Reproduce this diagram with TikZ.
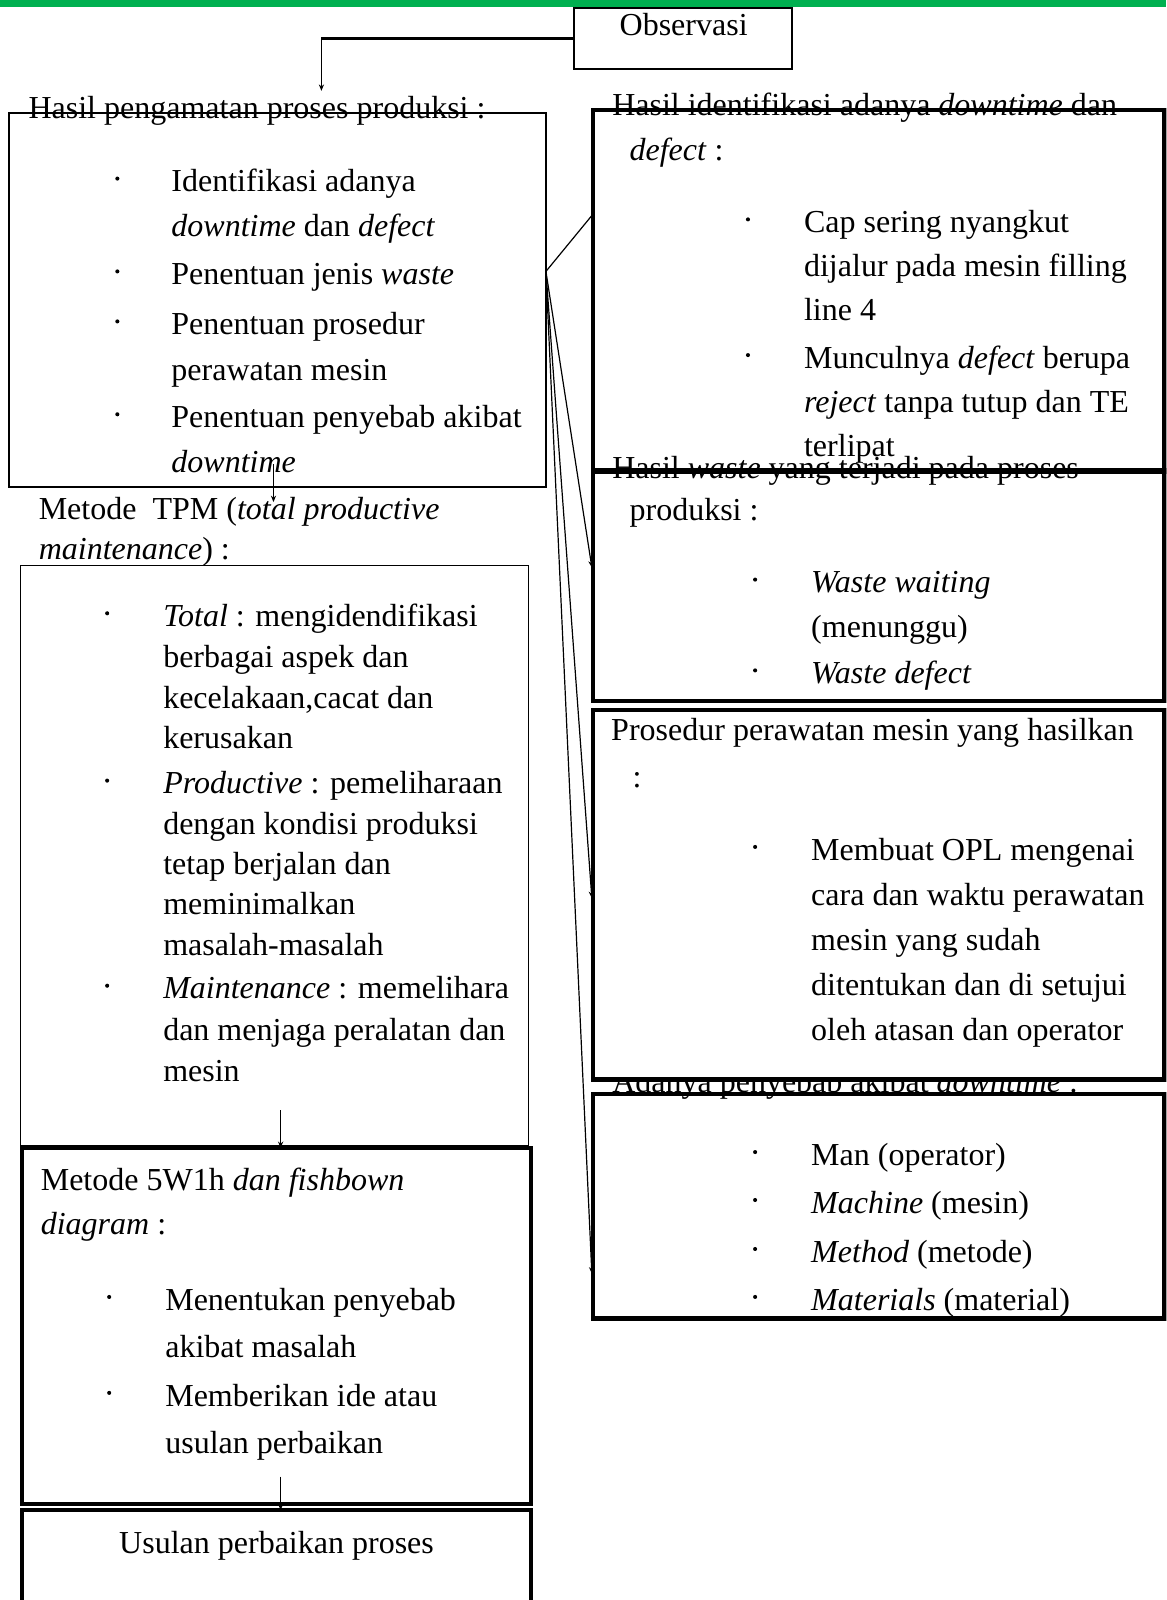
\documentclass[tikz,border=0pt]{standalone}
\usepackage{fontspec}
\setmainfont{Liberation Serif}[Ligatures=NoCommon]
\usetikzlibrary{arrows.meta,fit}
\definecolor{topgreen}{RGB}{0,176,80}
\newcommand\mybullet[2]{\fill (#1,#2) circle[radius=2];}
\newcommand\mylines[1]{\begin{tabular}[t]{@{}l@{}}#1\end{tabular}}
\tikzset{
  txt/.style={anchor=base west, inner sep=0pt, outer sep=0pt, font=\fontsize{16}{#1}\selectfont},
  txt/.default=22.44pt,
  one/.style={anchor=base west, inner sep=0pt, outer sep=0pt, font=\fontsize{16}{20}\selectfont},
  bx/.style={inner sep=0pt, outer sep=0pt, draw, line width=#1},
  conn/.style={line width=0.6pt, -{Stealth[length=3.2pt,width=2.6pt]}},
}
\begin{document}
\begin{tikzpicture}[x=0.51005pt,y=-0.51005pt]
\useasboundingbox (0,0) rectangle (1143,1568);
\clip (0,0) rectangle (1143,1568);
\fill[topgreen] (0,0) rectangle (1143,6.5);

% Observasi
\node[bx=1pt, fit={(563,8) (776,68)}] (obs) {};
\node[one, anchor=base] (obst) at (670,35) {Observasi};

% Box A
\node[one] (tA) at (28,116) {Hasil pengamatan proses produksi :};
\node[bx=0.9pt, fit={(9,111) (535,477)}] (bA) {};
\mybullet{115}{175}
\node[txt] (a1) at (168,188) {\mylines{Identifikasi adanya\\\textit{downtime} dan \textit{defect}}};
\mybullet{115}{266}
\node[txt] (a2) at (168,279) {Penentuan jenis \textit{waste}};
\mybullet{115}{315}
\node[txt=22.95pt] (a3) at (168,328) {\mylines{Penentuan prosedur\\perawatan mesin}};
\mybullet{115}{406}
\node[txt] (a4) at (168,419) {\mylines{Penentuan penyebab akibat\\\textit{downtime}}};

% TPM
\node[txt=19.9pt] (tT) at (38,509) {\mylines{Metode\ \ TPM (\textit{total productive}\\\textit{maintenance}) :}};
\node[bx=0.8pt, fit={(20,554) (518,1123)}] (bT) {};
\mybullet{105}{601}
\node[txt=20.4pt] (t1) at (160,614) {\mylines{\textit{Total} : mengidendifikasi\\berbagai aspek dan\\kecelakaan,cacat dan\\kerusakan}};
\mybullet{105}{765}
\node[txt=20.15pt] (t2) at (160,778) {\mylines{\textit{Productive} : pemeliharaan\\dengan kondisi produksi\\tetap berjalan dan\\meminimalkan\\masalah-masalah}};
\mybullet{105}{966}
\node[txt=20.66pt] (t3) at (160,979) {\mylines{\textit{Maintenance} : memelihara\\dan menjaga peralatan dan\\mesin}};

% 5W1h
\node[bx=2pt, fit={(22,1125) (520,1474)}] (bW) {};
\node[txt=21.93pt] (tW) at (40,1167) {\mylines{Metode 5W1h \textit{dan fishbown}\\\textit{diagram} :}};
\mybullet{107}{1271}
\node[txt=23.46pt] (w1) at (162,1284) {\mylines{Menentukan penyebab\\akibat masalah}};
\mybullet{107}{1365}
\node[txt=23.46pt] (w2) at (162,1378) {\mylines{Memberikan ide atau\\usulan perbaikan}};

% Usulan
\node[bx=2pt, fit={(22,1480) (520,1600)}] (bU) {};
\node[one, anchor=base] (tU) at (271,1522) {Usulan perbaikan proses};

% R1
\node[one] (tR1a) at (600,113) {Hasil identifikasi adanya \textit{downtime} dan};
\node[bx=2.2pt, fit={(581,108) (1141,462)}] (bR1) {};
\node[one] (tR1b) at (617,157) {\textit{defect} :};
\mybullet{733}{215}
\node[txt=21.93pt] (r11) at (788,228) {\mylines{Cap sering nyangkut\\dijalur pada mesin filling\\line 4}};
\mybullet{733}{348}
\node[txt=21.93pt] (r12) at (788,361) {\mylines{Munculnya \textit{defect} berupa\\\textit{reject} tanpa tutup dan TE\\terlipat}};

% R2
\node[one] (tR2a) at (600,469) {Hasil \textit{waste} yang terjadi pada proses};
\node[bx=2.2pt, fit={(581,461) (1141,687)}] (bR2) {};
\node[one] (tR2b) at (617,510) {produksi :};
\mybullet{740}{568}
\node[txt=22.44pt] (r21) at (795,581) {\mylines{\textit{Waste waiting}\\(menunggu)}};
\mybullet{740}{657}
\node[txt] (r22) at (795,670) {\textit{Waste defect}};

% R4 title (partly under R3)
\node[one] (tR4) at (600,1071) {Adanya penyebab akibat \textit{downtime} :};

% R3
\node[bx=2.2pt, fill=white, fit={(581,696) (1141,1058)}] (bR3) {};
\node[one] (tR3a) at (599,726) {Prosedur perawatan mesin yang hasilkan};
\node[one] (tR3b) at (620,772) {:};
\mybullet{740}{830}
\node[txt=22.57pt] (r31) at (795,843) {\mylines{Membuat OPL mengenai\\cara dan waktu perawatan\\mesin yang sudah\\ditentukan dan di setujui\\oleh atasan dan operator}};

% R4
\node[bx=2.2pt, fit={(581,1072) (1141,1292)}] (bR4) {};
\mybullet{740}{1129}
\node[one] (r41) at (795,1142) {Man (operator)};
\mybullet{740}{1176}
\node[one] (r42) at (795,1189) {\textit{Machine} (mesin)};
\mybullet{740}{1224}
\node[one] (r43) at (795,1237) {\textit{Method} (metode)};
\mybullet{740}{1271}
\node[one] (r44) at (795,1284) {\textit{Materials} (material)};

% connectors
\coordinate (ob1) at (315,38);
\coordinate (ob2) at (315,89);
\draw[line width=1.3pt] (obs.west) -- (ob1);
\draw[conn] (ob1) -- (ob2);

\coordinate (at1) at (268,455);
\coordinate (at2) at (268,492);
\draw[conn] (at1) -- (at2);

\coordinate (tw1) at (275,1088);
\draw[conn] (tw1) -- (tw1 |- bW.north);
\coordinate (wu1) at (275,1447);
\draw[conn] (wu1) -- (wu1 |- bU.north);

\coordinate (oA) at (535,266);
\coordinate (e1) at (581,210);
\coordinate (e2) at (580,556);
\coordinate (e3) at (580,880);
\coordinate (e4) at (580,1248);
\draw[line width=0.6pt] (oA) -- (e1);
\draw[conn] (oA) -- (e2);
\draw[conn] (oA) -- (e3);
\draw[conn] (oA) -- (e4);
\end{tikzpicture}
\end{document}
